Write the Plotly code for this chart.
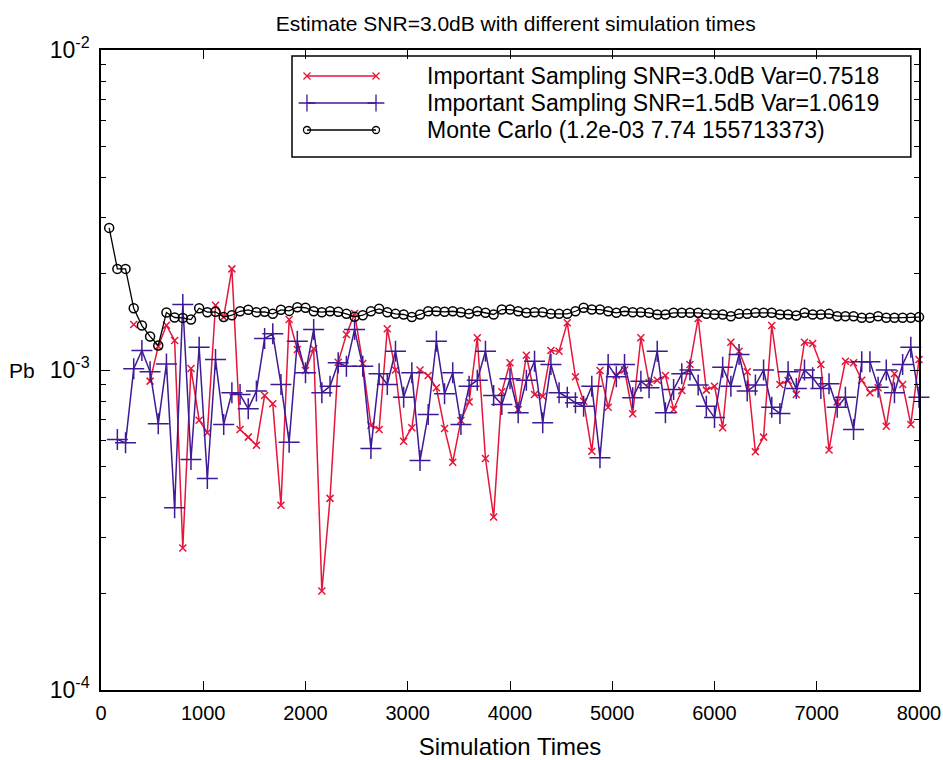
import plotly.graph_objects as go

# ---------------- data ----------------
sim_times = list(range(80, 8001, 80))  # 100 simulation checkpoints

# values in units of 1e-3
is_30db_e3 = [None, None, None, 1.388, None, 0.923, 1.187, 1.380, 1.236, 0.278,
              1.011, 0.697, 0.637, 1.594, 1.463, 2.07, 0.652, 0.617, 0.582, 0.832,
              0.784, 0.378, 1.438, 1.159, 0.996, 1.165, 0.204, 0.397, 1.058, 1.291,
              1.502, 1.048, 0.672, 0.652, 1.345, 1.0, 0.599, 0.660, 1.0, 0.961,
              0.880, 0.656, 0.515, 0.695, 0.795, 1.261, 0.529, 0.347, 0.855, 1.053,
              0.753, 1.112, 0.838, 0.828, 1.151, 1.145, 1.404, 0.952, 0.799, 0.557,
              0.996, 0.765, 0.963, 1.0, 0.730, 1.261, 0.912, 0.929, 0.961, 0.753,
              0.863, 1.040, 1.449, 0.865, 0.890, 0.660, 1.221, 1.145, 0.987, 0.555,
              0.617, 1.377, 0.901, 0.927, 0.838, 1.221, 1.210, 1.040, 0.562, 0.795,
              1.065, 1.053, 0.929, 0.849, 0.880, 0.667, 0.973, 0.901, 0.676, 1.078]

is_15db_e3 = [None, 0.607, 0.592, 1.009, 1.151, 0.987, 0.679, 1.045, 0.371, 1.602,
              0.525, 1.178, 0.458, 1.078, 0.676, 0.849, 0.838, 0.757, 0.859, 1.254,
              1.297, 0.901, 0.595, 1.230, 0.980, 1.339, 0.849, 0.890, 1.053, 1.027,
              1.339, 1.027, 0.568, 0.973, 0.901, 1.145, 0.822, 0.980, 0.521, 0.726,
              1.230, 0.843, 0.980, 0.676, 0.890, 0.929, 1.145, 0.832, 0.780, 0.939,
              0.735, 0.929, 1.065, 0.684, 1.040, 0.849, 0.822, 0.790, 0.771, 0.890,
              0.532, 1.040, 0.952, 1.040, 0.819, 0.923, 0.880, 1.145, 0.735, 0.869,
              0.973, 1.0, 0.897, 0.771, 0.710, 1.020, 0.890, 1.118, 0.859, 0.897,
              1.0, 0.765, 0.731, 0.987, 0.875, 1.0, 0.945, 0.875, 0.906, 0.765,
              0.822, 0.652, 1.061, 1.061, 0.884, 1.0, 0.849, 1.040, 1.178, 0.822]

mc_e3 = [2.78, 2.07, 2.07, 1.56, 1.377, 1.273, 1.193, 1.513, 1.459, 1.455,
         1.438, 1.56, 1.516, 1.52, 1.463, 1.483, 1.526, 1.542, 1.516, 1.52,
         1.498, 1.542, 1.53, 1.571, 1.565, 1.526, 1.516, 1.526, 1.52, 1.498,
         1.466, 1.483, 1.526, 1.553, 1.516, 1.498, 1.491, 1.463, 1.491, 1.526,
         1.526, 1.52, 1.526, 1.516, 1.498, 1.526, 1.509, 1.491, 1.545, 1.545,
         1.526, 1.509, 1.516, 1.516, 1.498, 1.498, 1.498, 1.526, 1.565, 1.545,
         1.545, 1.526, 1.509, 1.526, 1.516, 1.516, 1.509, 1.491, 1.491, 1.509,
         1.509, 1.509, 1.509, 1.498, 1.491, 1.491, 1.473, 1.498, 1.498, 1.509,
         1.509, 1.509, 1.491, 1.491, 1.480, 1.509, 1.491, 1.491, 1.498, 1.473,
         1.473, 1.473, 1.456, 1.456, 1.473, 1.456, 1.456, 1.456, 1.456, 1.463]

series_names = ["Important Sampling SNR=3.0dB Var=0.7518",
                "Important Sampling SNR=1.5dB Var=1.0619",
                "Monte Carlo (1.2e-03 7.74 155713373)"]

x_ticks = [0, 1000, 2000, 3000, 4000, 5000, 6000, 7000, 8000]
y_ticks = [1e-4, 1e-3, 1e-2]
y_ticktext = ["10<sup>-4</sup>", "10<sup>-3</sup>", "10<sup>-2</sup>"]
y_minor = [m * 10.0 ** e for e in (-4, -3) for m in range(2, 10)]

def to_pb(vals):
    return [None if v is None else v * 1e-3 for v in vals]

RED = "#e4163a"
BLUE = "#3f1a94"
BLACK = "#000000"
FONT = "Liberation Sans, Arial, sans-serif"

styles = [
    dict(color=RED, symbol="x-thin", size=7, lw=1.5, ksize=7),
    dict(color=BLUE, symbol="cross-thin", size=15, lw=1.5, ksize=12),
    dict(color=BLACK, symbol="circle-open", size=9, lw=1.3, ksize=7),
]
data_series = [to_pb(is_30db_e3), to_pb(is_15db_e3), to_pb(mc_e3)]

fig = go.Figure()
for name, ys, st in zip(series_names, data_series, styles):
    fig.add_trace(go.Scatter(
        x=sim_times, y=ys, name=name, mode="lines+markers",
        line=dict(color=st["color"], width=st["lw"]),
        marker=dict(symbol=st["symbol"], size=st["size"], color=st["color"],
                    line=dict(color=st["color"], width=1.5)),
        connectgaps=False, cliponaxis=False, showlegend=False,
    ))

# ---- gnuplot-style key (legend) drawn on an overlay axis in [0,1] ----
key_rows = [0.9594, 0.9172, 0.875]
key_x = [0.2518, 0.3362]
for name, yk, st in zip(series_names, key_rows, styles):
    fig.add_trace(go.Scatter(
        x=key_x, y=[yk, yk], xaxis="x2", yaxis="y2", mode="lines+markers",
        line=dict(color=st["color"], width=st["lw"]),
        marker=dict(symbol=st["symbol"], size=st["ksize"],
                    color=st["color"], line=dict(color=st["color"], width=1.3)),
        showlegend=False, hoverinfo="skip", cliponaxis=False,
    ))
    fig.add_annotation(x=0.396, y=yk, xref="x2", yref="y2", text=name,
                       showarrow=False, xanchor="left", yanchor="middle",
                       font=dict(family=FONT, size=23, color="black"))

fig.add_shape(type="rect", xref="x2", yref="y2", x0=0.2335, x1=0.990,
              y0=0.833, y1=0.9906, line=dict(color="black", width=1.5),
              fillcolor="rgba(0,0,0,0)", layer="above")

fig.update_layout(
    width=943, height=760,
    margin=dict(l=101, r=24, t=50, b=70),
    paper_bgcolor="white", plot_bgcolor="white",
    font=dict(family=FONT, color="black"),
    title=dict(text="Estimate SNR=3.0dB with different simulation times",
               x=0.507, xref="paper", xanchor="center",
               y=1 - 24 / 760, yref="container", yanchor="middle",
               font=dict(family=FONT, size=21, color="black")),
    xaxis=dict(range=[0, 8000], tickvals=x_ticks, ticks="inside", ticklen=9,
               tickwidth=1, tickcolor="black", showline=True, linecolor="black",
               linewidth=1.5, mirror="allticks", showgrid=False, zeroline=False,
               automargin=False, ticklabelstandoff=4,
               tickfont=dict(family=FONT, size=20, color="black"),
               title=dict(text="Simulation Times", standoff=16,
                          font=dict(family=FONT, size=24, color="black"))),
    yaxis=dict(type="log", range=[-4, -2], tickvals=y_ticks, ticktext=y_ticktext,
               ticks="inside", ticklen=9, tickwidth=1, tickcolor="black",
               showline=True, linecolor="black", linewidth=1.5, mirror="allticks",
               showgrid=False, zeroline=False, automargin=False,
               ticklabelstandoff=5,
               tickfont=dict(family=FONT, size=23, color="black"),
               minor=dict(tickvals=y_minor, ticks="inside", ticklen=5,
                          tickwidth=1, tickcolor="black", showgrid=False)),
    xaxis2=dict(overlaying="x", range=[0, 1], visible=False, fixedrange=True),
    yaxis2=dict(overlaying="y", range=[0, 1], visible=False, fixedrange=True),
    showlegend=False,
)

fig.add_annotation(x=-0.0966, y=0.5, xref="paper", yref="paper", text="Pb",
                   showarrow=False, xanchor="center", yanchor="middle",
                   font=dict(family=FONT, size=21, color="black"))

fig.write_html("out.html")
